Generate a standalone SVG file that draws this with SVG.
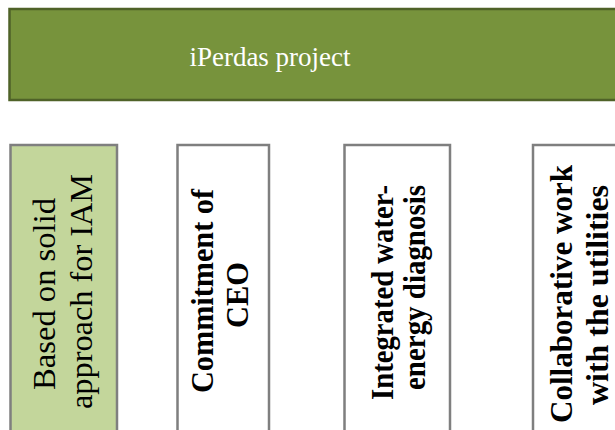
<svg xmlns="http://www.w3.org/2000/svg" width="615" height="430" viewBox="0 0 615 430">
  <style>
    .title { font-family: "Liberation Serif", "Times New Roman", serif; font-size: 27px; fill: #ffffff; text-anchor: middle; }
    .bar { fill: #77933c; stroke: #4f6228; stroke-width: 2.5; }
    .box { fill: #ffffff; stroke: #7f7f7f; stroke-width: 2.5; }
    .box.hl { fill: #c3d69b; }
    .lbl { font-family: "Liberation Serif", "Times New Roman", serif; font-size: 32px; fill: #000000; text-anchor: middle; }
    .lbl.b { font-weight: bold; font-size: 31px; }
  </style>
  <rect width="615" height="430" fill="#ffffff"/>

  <g id="project">
    <rect class="bar" x="9.5" y="9" width="640" height="91"/>
    <text class="title" x="270" y="66">iPerdas project</text>
  </g>

  <g id="connectors"/>

  <g id="iam">
    <rect class="box hl" x="10.5" y="145" width="106.5" height="320"/>
    <text class="lbl" transform="translate(55.3,294) rotate(-90)" textLength="192" lengthAdjust="spacingAndGlyphs">Based on solid</text>
    <text class="lbl" transform="translate(92,291.5) rotate(-90)" textLength="235" lengthAdjust="spacingAndGlyphs">approach for IAM</text>
  </g>

  <g id="ceo">
    <rect class="box" x="177.5" y="145" width="91.5" height="320"/>
    <text class="lbl b" transform="translate(213,291) rotate(-90)" textLength="204" lengthAdjust="spacingAndGlyphs">Commitment of</text>
    <text class="lbl b" transform="translate(248,295) rotate(-90)" textLength="66" lengthAdjust="spacingAndGlyphs">CEO</text>
  </g>

  <g id="diagnosis">
    <rect class="box" x="344.5" y="145" width="105.5" height="320"/>
    <text class="lbl b" transform="translate(392.7,292.5) rotate(-90)" textLength="215" lengthAdjust="spacingAndGlyphs">Integrated water-</text>
    <text class="lbl b" transform="translate(424.5,287.5) rotate(-90)" textLength="205" lengthAdjust="spacingAndGlyphs">energy diagnosis</text>
  </g>

  <g id="utilities">
    <rect class="box" x="533" y="145" width="110" height="320"/>
    <text class="lbl b" transform="translate(571.7,294) rotate(-90)" textLength="258" lengthAdjust="spacingAndGlyphs">Collaborative work</text>
    <text class="lbl b" transform="translate(607.7,295) rotate(-90)" textLength="220" lengthAdjust="spacingAndGlyphs">with the utilities</text>
  </g>
</svg>
